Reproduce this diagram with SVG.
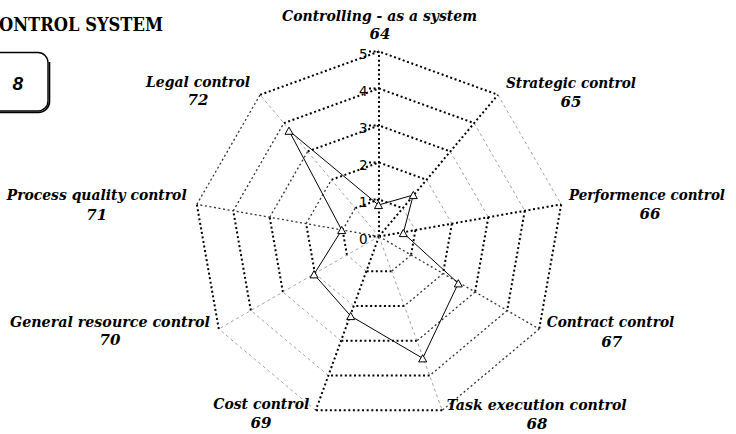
<svg xmlns="http://www.w3.org/2000/svg" width="736" height="434" viewBox="0 0 736 434">
  <style>
    .bold  { fill: none; stroke: #000; stroke-width: 2; stroke-dasharray: 2 2.6; }
    .mid   { fill: none; stroke: #333; stroke-width: 1.3; stroke-dasharray: 2 2.6; }
    .faint { fill: none; stroke: #8a8a8a; stroke-width: 0.8; stroke-dasharray: 3 3; }
    .lbl   { font-family: "DejaVu Serif", "Liberation Serif", serif; font-weight: bold; font-style: italic; font-size: 15px; fill: #000; text-anchor: middle; }
    .tick  { font-family: "DejaVu Sans", "Liberation Sans", sans-serif; font-size: 13.5px; fill: #000; text-anchor: end; }
    .data  { fill: none; stroke: #000; stroke-width: 1; }
    .pt    { fill: #fff; stroke: #000; stroke-width: 1; }
  </style>
  <defs>
    <path id="tri" d="M0,-3.6 L4,3.6 L-4,3.6 Z"/>
  </defs>
  <rect width="736" height="434" fill="#fff"/>

  <!-- heading -->
  <g id="title">
    <text x="-1" y="30.5" font-family="DejaVu Serif, Liberation Serif, serif" font-weight="bold" font-size="19" textLength="164" lengthAdjust="spacingAndGlyphs">ONTROL SYSTEM</text>
  </g>

  <!-- page tab -->
  <g id="tab">
    <path d="M-10,52.5 H38 A10,10 0 0 1 48,62.5 V101 A10,10 0 0 1 38,111 H-10" fill="#fff" stroke="#000" stroke-width="1.4"/>
    <path d="M49.5,62 V101.5 A11,11 0 0 1 38.5,112.5 H-10" fill="none" stroke="#000" stroke-width="1.6"/>
    <text x="17.7" y="89.5" font-family="Liberation Sans, Arial, sans-serif" font-weight="bold" font-style="italic" font-size="19" text-anchor="middle">8</text>
  </g>

  <!-- radar grid: rings for levels 1..5 and spokes -->
  <g id="grid">
    <path class="bold" d="M355.22,208.16 L379,199.5 L402.78,208.16 M331.43,179.82 L379,162.5 L426.57,179.82 M307.65,151.47 L379,125.5 L450.35,151.47 M283.87,123.13 L379,88.5 L474.13,123.13 M260.08,94.79 L379,51.5 L497.92,94.79"/>
    <path class="bold" d="M415.44,230.08 L411.04,255 M451.88,223.65 L443.08,273.5 M488.31,217.23 L475.13,292 M524.75,210.81 L507.17,310.5 M561.19,204.38 L539.21,329"/>
    <path class="bold" d="M391.65,271.27 L366.35,271.27 M404.31,306.04 L353.69,306.04 M416.96,340.81 L341.04,340.81 M429.62,375.58 L328.38,375.58 M442.27,410.34 L315.73,410.34"/>
    <path class="bold" d="M346.96,255 L342.56,230.08 M314.92,273.5 L306.12,223.65 M282.87,292 L269.69,217.23 M250.83,310.5 L233.25,210.81 M218.79,329 L196.81,204.38"/>
    <path class="mid" d="M411.04,255 L391.65,271.27 M443.08,273.5 L404.31,306.04 M475.13,292 L416.96,340.81 M507.17,310.5 L429.62,375.58 M539.21,329 L442.27,410.34"/>
    <path class="mid" d="M342.56,230.08 L355.22,208.16 M306.12,223.65 L331.43,179.82 M269.69,217.23 L307.65,151.47 M233.25,210.81 L283.87,123.13 M196.81,204.38 L260.08,94.79"/>
    <path class="faint" d="M402.78,208.16 L415.44,230.08 M426.57,179.82 L451.88,223.65 M450.35,151.47 L488.31,217.23 M474.13,123.13 L524.75,210.81 M497.92,94.79 L561.19,204.38"/>
    <path class="faint" d="M366.35,271.27 L346.96,255 M353.69,306.04 L314.92,273.5 M341.04,340.81 L282.87,292 M328.38,375.58 L250.83,310.5 M315.73,410.34 L218.79,329"/>
    <!-- spokes -->
    <path class="bold" d="M379,236.5 L379,51.5 M379,236.5 L497.92,94.79 M379,236.5 L561.19,204.38 M379,236.5 L315.73,410.34"/>
    <path class="mid" d="M379,236.5 L539.21,329 M379,236.5 L196.81,204.38"/>
    <path class="faint" d="M379,236.5 L442.27,410.34 M379,236.5 L218.79,329 M379,236.5 L260.08,94.79"/>
  </g>

  <!-- value axis ticks and numbers -->
  <g id="scale">
    <path class="bold" d="M369,236.5 H379 M369,199.5 H379 M369,162.5 H379 M369,125.5 H379 M369,88.5 H379 M369,51.5 H379"/>
    <text class="tick" x="367.5" y="243.5">0</text>
    <text class="tick" x="367.5" y="206.5">1</text>
    <text class="tick" x="367.5" y="169.5">2</text>
    <text class="tick" x="367.5" y="132.5">3</text>
    <text class="tick" x="367.5" y="95.5">4</text>
    <text class="tick" x="367.5" y="58.5">5</text>
  </g>

  <!-- series line -->
  <g id="connectors">
    <path class="data" d="M378.5,205 L413.3,195 L403.3,233 L458.3,283.3 L422.7,358.3 L350.7,316 L314,274.3 L341.7,230 L289,130.7 Z"/>
  </g>

  <!-- series points -->
  <g id="points">
    <use href="#tri" class="pt" x="378.5" y="205"/>
    <use href="#tri" class="pt" x="413.3" y="195"/>
    <use href="#tri" class="pt" x="403.3" y="233"/>
    <use href="#tri" class="pt" x="458.3" y="283.3"/>
    <use href="#tri" class="pt" x="422.7" y="358.3"/>
    <use href="#tri" class="pt" x="350.7" y="316"/>
    <use href="#tri" class="pt" x="314" y="274.3"/>
    <use href="#tri" class="pt" x="341.7" y="230"/>
    <use href="#tri" class="pt" x="289" y="130.7"/>
  </g>

  <!-- axis labels -->
  <g id="axis-64">
    <text class="lbl" x="379.5" y="21" textLength="195" lengthAdjust="spacingAndGlyphs">Controlling - as a system</text>
    <text class="lbl" x="380" y="39">64</text>
  </g>
  <g id="axis-65">
    <text class="lbl" x="571" y="88" textLength="130" lengthAdjust="spacingAndGlyphs">Strategic control</text>
    <text class="lbl" x="571" y="106.5">65</text>
  </g>
  <g id="axis-66">
    <text class="lbl" x="647" y="200" font-size="14" textLength="156" lengthAdjust="spacingAndGlyphs">Performence control</text>
    <text class="lbl" x="650" y="219.3">66</text>
  </g>
  <g id="axis-67">
    <text class="lbl" x="610.5" y="326.7" textLength="127.6" lengthAdjust="spacingAndGlyphs">Contract control</text>
    <text class="lbl" x="611.7" y="346.7">67</text>
  </g>
  <g id="axis-68">
    <text class="lbl" x="536.7" y="410" textLength="180" lengthAdjust="spacingAndGlyphs">Task execution control</text>
    <text class="lbl" x="537" y="429.3">68</text>
  </g>
  <g id="axis-69">
    <text class="lbl" x="261.3" y="409.3" textLength="96" lengthAdjust="spacingAndGlyphs">Cost control</text>
    <text class="lbl" x="261" y="428">69</text>
  </g>
  <g id="axis-70">
    <text class="lbl" x="110" y="326.7" textLength="200" lengthAdjust="spacingAndGlyphs">General resource control</text>
    <text class="lbl" x="110" y="345">70</text>
  </g>
  <g id="axis-71">
    <text class="lbl" x="96.7" y="199.5" textLength="180" lengthAdjust="spacingAndGlyphs">Process quality control</text>
    <text class="lbl" x="96.7" y="219.5">71</text>
  </g>
  <g id="axis-72">
    <text class="lbl" x="198" y="87" textLength="104" lengthAdjust="spacingAndGlyphs">Legal control</text>
    <text class="lbl" x="198" y="105">72</text>
  </g>
</svg>
